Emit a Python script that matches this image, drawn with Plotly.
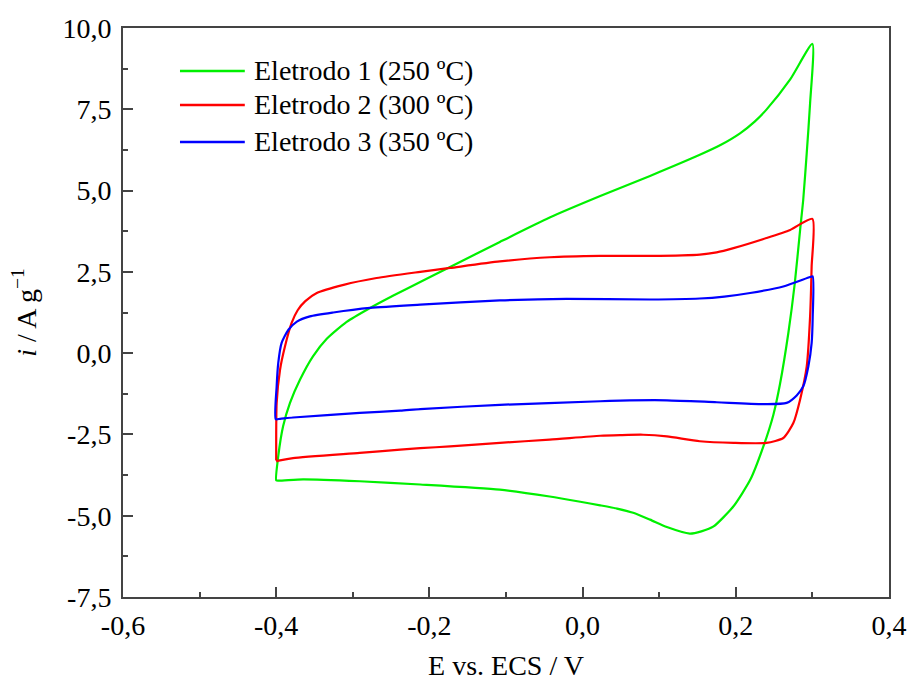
import plotly.graph_objects as go

# ---------------- data ----------------
names = ["Eletrodo 1 (250 ºC)", "Eletrodo 2 (300 ºC)", "Eletrodo 3 (350 ºC)"]
colors = ["#00f000", "#ff0000", "#0000ff"]

E1 = [-0.400, -0.3973, -0.391, -0.382, -0.369, -0.352, -0.334, -0.308, -0.278, -0.247,
      -0.212, -0.173, -0.108, -0.043, 0.023, 0.088, 0.153, 0.180, 0.2055, 0.225, 0.240,
      0.271, 0.300,
      0.297, 0.2926, 0.288, 0.284, 0.277, 0.2686, 0.2577, 0.249, 0.236, 0.219, 0.197,
      0.171, 0.155, 0.140, 0.110, 0.088, 0.066, 0.045, 0.023, -0.003, -0.043, -0.108,
      -0.212, -0.291, -0.365, -0.397, -0.400]
I1 = [-3.91, -3.17, -2.25, -1.53, -0.82, -0.10, 0.44, 0.96, 1.38, 1.77,
      2.19, 2.65, 3.42, 4.17, 4.83, 5.45, 6.10, 6.40, 6.76, 7.13, 7.49,
      8.42, 9.51,
      7.69, 6.15, 4.71, 3.80, 2.15, 0.62, -0.95, -1.90, -2.87, -3.89, -4.71,
      -5.33, -5.48, -5.55, -5.35, -5.12, -4.91, -4.78, -4.68, -4.57, -4.41, -4.20,
      -4.04, -3.94, -3.88, -3.92, -3.91]

E2 = [-0.400, -0.3994, -0.395, -0.3885, -0.380, -0.372, -0.362, -0.347, -0.312, -0.269,
      -0.212, -0.173, -0.108, -0.043, 0.023, 0.088, 0.153, 0.175, 0.197, 0.240, 0.271,
      0.300,
      0.299, 0.297, 0.2926, 0.2839, 0.2751, 0.262, 0.240, 0.197, 0.153, 0.110, 0.079,
      0.049, 0.023, -0.043, -0.108, -0.173, -0.212, -0.238, -0.291, -0.378, -0.395, -0.400]
I2 = [-3.30, -1.53, -0.51, 0.21, 0.92, 1.32, 1.60, 1.85, 2.10, 2.31,
      2.50, 2.62, 2.82, 2.95, 2.99, 2.99, 3.03, 3.10, 3.23, 3.54, 3.79,
      4.13,
      2.66, 1.13, -0.41, -1.43, -2.15, -2.61, -2.76, -2.76, -2.71, -2.56, -2.51,
      -2.52, -2.54, -2.66, -2.76, -2.87, -2.92, -2.97, -3.07, -3.23, -3.30, -3.33]

E3 = [-0.4006, -0.3994, -0.3973, -0.393, -0.384, -0.373, -0.356, -0.3255, -0.2775, -0.212,
      -0.108, -0.021, 0.088, 0.153, 0.185, 0.2187, 0.262, 0.297, 0.3004,
      0.3004, 0.299, 0.2947, 0.2881, 0.2795, 0.2664, 0.2403, 0.175, 0.110, 0.049, 0.023,
      -0.108, -0.212, -0.238, -0.291, -0.378, -0.395, -0.4006]
I3 = [-2.03, -1.02, -0.30, 0.31, 0.72, 0.97, 1.13, 1.25, 1.39, 1.49,
      1.62, 1.67, 1.65, 1.68, 1.74, 1.85, 2.05, 2.34, 2.36,
      1.13, 0.31, -0.41, -1.02, -1.30, -1.53, -1.57, -1.51, -1.45, -1.46, -1.48,
      -1.59, -1.72, -1.77, -1.84, -1.98, -2.02, -2.03]

x_tickvals = [-0.6, -0.4, -0.2, 0.0, 0.2, 0.4]
x_ticktext = ["-0,6", "-0,4", "-0,2", "0,0", "0,2", "0,4"]
y_tickvals = [-7.5, -5.0, -2.5, 0.0, 2.5, 5.0, 7.5, 10.0]
y_ticktext = ["-7,5", "-5,0", "-2,5", "0,0", "2,5", "5,0", "7,5", "10,0"]

x_title = "E vs. ECS / V"
y_title = "<i>i</i> / A g<sup>−1</sup>"

# ---------------- figure ----------------
FONT = "'Liberation Serif', 'Times New Roman', 'DejaVu Serif', serif"
FS = 28
fig = go.Figure()
for E, I, n, c in zip([E1, E2, E3], [I1, I2, I3], names, colors):
    fig.add_trace(go.Scatter(x=E, y=I, mode="lines", name=n,
                             line=dict(color=c, width=2.2, shape="spline", smoothing=0.6),
                             showlegend=False))

axis_common = dict(
    showgrid=False, zeroline=False, showline=True, linecolor="#444444", linewidth=2,
    mirror=True, ticks="inside", ticklen=10, tickwidth=1.5, tickcolor="#444444",
    tickfont=dict(family=FONT, size=FS, color="black"), automargin=False,
)
fig.update_xaxes(range=[-0.6, 0.4], tickvals=x_tickvals, ticktext=x_ticktext,
                 minor=dict(ticks="inside", ticklen=5, tickwidth=1.5, tickcolor="#444444",
                            dtick=0.1, tick0=-0.6),
                 ticklabelstandoff=2,
                 title=dict(text=x_title, font=dict(family=FONT, size=FS, color="black"),
                            standoff=16),
                 **axis_common)
fig.update_yaxes(range=[-7.5, 10.0], tickvals=y_tickvals, ticktext=y_ticktext,
                 minor=dict(ticks="inside", ticklen=5, tickwidth=1.5, tickcolor="#444444",
                            dtick=1.25, tick0=-7.5),
                 ticklabelstandoff=4,
                 title=dict(text=y_title, font=dict(family=FONT, size=FS, color="black"),
                            standoff=18),
                 **axis_common)

# manual legend (paper coordinates)
leg_y = [0.9245, 0.8648, 0.7998]
for n, c, yy in zip(names, colors, leg_y):
    fig.add_shape(type="line", xref="paper", yref="paper", x0=0.0744, x1=0.159, y0=yy, y1=yy,
                  line=dict(color=c, width=2.5))
    fig.add_annotation(xref="paper", yref="paper", x=0.168, y=yy, text=n, showarrow=False,
                       xanchor="left", yanchor="middle",
                       font=dict(family=FONT, size=FS, color="black"))

fig.update_layout(
    width=907, height=684,
    margin=dict(l=123, r=18, t=28, b=87),
    plot_bgcolor="white", paper_bgcolor="white",
    font=dict(family=FONT, size=FS, color="black"),
)

fig.write_html("out.html", config={"displayModeBar": False},
               post_script="document.body.style.margin='0';")
